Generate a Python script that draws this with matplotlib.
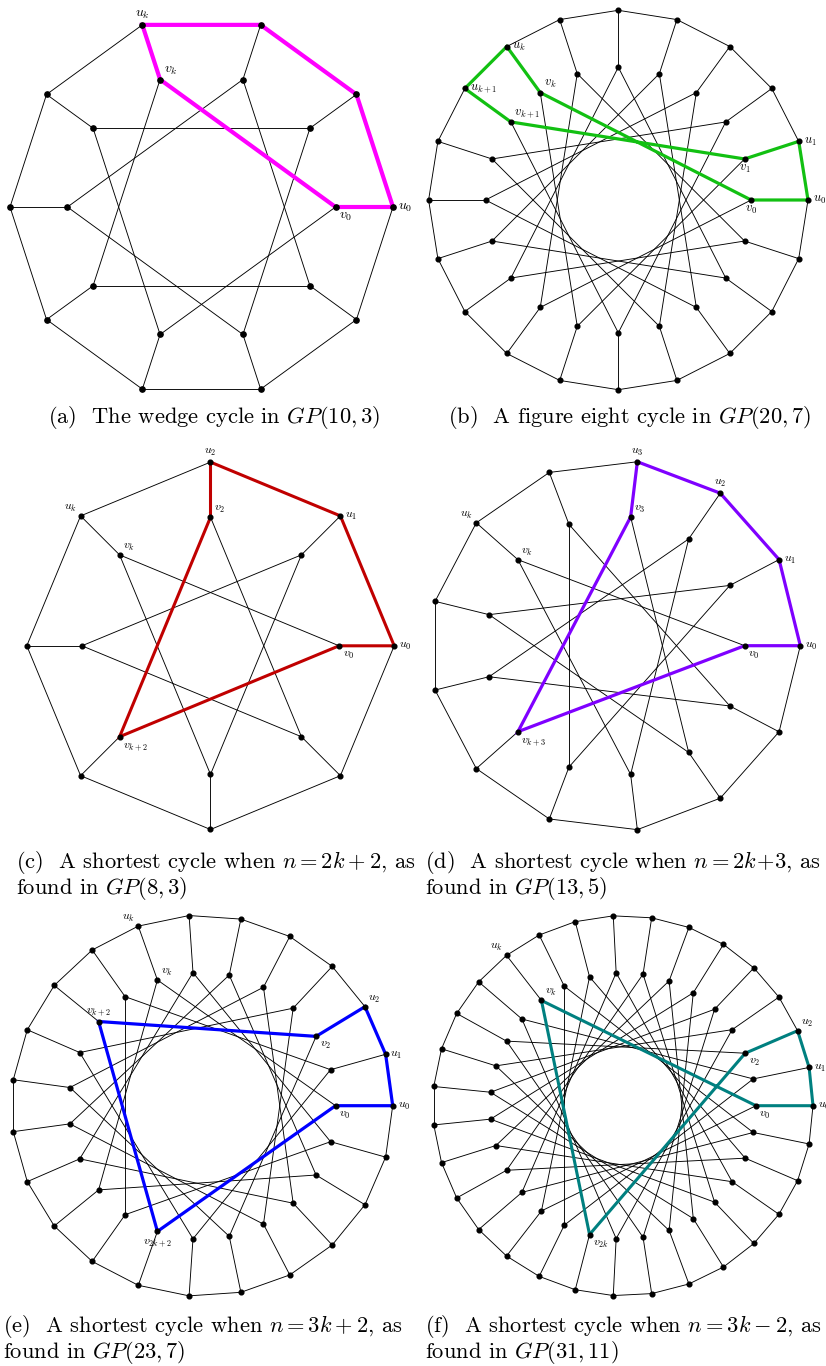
import numpy as np
import matplotlib.pyplot as plt

plt.rcParams['mathtext.fontset'] = 'cm'

W, H = 826, 1366

# generalized Petersen graphs GP(n, k)
graph_n = [10, 20, 8, 13, 23, 31]
graph_k = [3, 7, 3, 5, 7, 11]

# highlighted cycles, as vertex names
cycle_a = ['u0', 'u1', 'u2', 'u3', 'v3', 'v0', 'u0']
cycle_b = ['u0', 'u1', 'v1', 'v8', 'u8', 'u7', 'v7', 'v0', 'u0']
cycle_c = ['u0', 'u1', 'u2', 'v2', 'v5', 'v0', 'u0']
cycle_d = ['u0', 'u1', 'u2', 'u3', 'v3', 'v8', 'v0', 'u0']
cycle_e = ['u0', 'u1', 'u2', 'v2', 'v9', 'v16', 'v0', 'u0']
cycle_f = ['u0', 'u1', 'u2', 'v2', 'v22', 'v11', 'v0', 'u0']
cycles = [cycle_a, cycle_b, cycle_c, cycle_d, cycle_e, cycle_f]

# vertex labels: (vertex, text, side)
labels_a = [('u3', 'u_k', 'N'), ('v3', 'v_k', 'NE'), ('u0', 'u_0', 'E'), ('v0', 'v_0', 'SE')]
labels_b = [('u7', 'u_k', 'E'), ('u8', 'u_{k+1}', 'E'), ('v7', 'v_k', 'NE'),
            ('v8', 'v_{k+1}', 'NE'), ('u1', 'u_1', 'E'), ('v1', 'v_1', 'S'),
            ('u0', 'u_0', 'E'), ('v0', 'v_0', 'S')]
labels_c = [('u2', 'u_2', 'N'), ('u3', 'u_k', 'NW'), ('v3', 'v_k', 'NE'),
            ('v2', 'v_2', 'NE'), ('u1', 'u_1', 'E'), ('u0', 'u_0', 'E'),
            ('v0', 'v_0', 'SE'), ('v5', 'v_{k+2}', 'SE')]
labels_d = [('u3', 'u_3', 'N'), ('u2', 'u_2', 'N'), ('u1', 'u_1', 'E'),
            ('u0', 'u_0', 'E'), ('v0', 'v_0', 'SE'), ('v3', 'v_3', 'NE'),
            ('u5', 'u_k', 'NW'), ('v5', 'v_k', 'NE'), ('v8', 'v_{k+3}', 'SE')]
labels_e = [('u7', 'u_k', 'NW'), ('v7', 'v_k', 'NE'), ('v9', 'v_{k+2}', 'N'),
            ('u2', 'u_2', 'NE'), ('v2', 'v_2', 'SE'), ('u1', 'u_1', 'E'),
            ('u0', 'u_0', 'E'), ('v0', 'v_0', 'SE'), ('v16', 'v_{2k+2}', 'S')]
labels_f = [('u11', 'u_k', 'NW'), ('v11', 'v_k', 'NE'), ('u2', 'u_2', 'NE'),
            ('v2', 'v_2', 'SE'), ('u1', 'u_1', 'E'), ('u0', 'u_0', 'E'),
            ('v0', 'v_0', 'SE'), ('v22', 'v_{2k}', 'SE')]
labels = [labels_a, labels_b, labels_c, labels_d, labels_e, labels_f]

captions = [
    r'(a)  The wedge cycle in $GP(10,3)$',
    r'(b)  A figure eight cycle in $GP(20,7)$',
    '(c)  A shortest cycle when $n=2k+2$, as\nfound in $GP(8,3)$',
    '(d)  A shortest cycle when $n=2k\\!+\\!3$, as\nfound in $GP(13,5)$',
    '(e)  A shortest cycle when $n=3k+2$, as\nfound in $GP(23,7)$',
    '(f)  A shortest cycle when $n=3k-2$, as\nfound in $GP(31,11)$',
]

# layout (pixels)
centers = [(201.5, 207), (618.3, 200), (210.5, 645.8), (615, 645.7), (202.1, 1105.7), (622.9, 1105.7)]
radii = [191.5, 189.7, 183.7, 185.3, 190.6, 190.1]
inner_ratio = 0.7
colors = ['#ff00ff', '#12c012', '#c00000', '#7f00ff', '#0000ff', '#008080']
cycle_lw = [3.0, 2.3, 2.2, 2.3, 2.3, 2.2]
label_size = [10, 9, 8.5, 8.5, 8.5, 8.5]
cap_pos = [(214, 418, 'center'), (630, 418, 'center'), (16, 849, 'left'),
           (425, 849, 'left'), (3, 1313, 'left'), (425, 1313, 'left')]

sides = {'N': (0, 3, 'center', 'bottom'), 'NE': (2.5, 1.5, 'left', 'bottom'),
         'E': (3.5, 0, 'left', 'center'), 'SE': (2.5, -1.5, 'left', 'top'),
         'S': (0, -2.5, 'center', 'top'), 'NW': (-2.5, 1.5, 'right', 'bottom')}

fig = plt.figure(figsize=(W / 100, H / 100), dpi=100)
L = 1.12

for i in range(6):
    n, k = graph_n[i], graph_k[i]
    cx, cy = centers[i]
    R = radii[i] * L
    ax = fig.add_axes([(cx - R) / W, 1 - (cy + R) / H, 2 * R / W, 2 * R / H])
    ax.set_xlim(-L, L)
    ax.set_ylim(-L, L)
    ax.axis('off')

    ang = 2 * np.pi * np.arange(n) / n
    pos = {}
    for j in range(n):
        pos['u%d' % j] = (np.cos(ang[j]), np.sin(ang[j]))
        pos['v%d' % j] = (inner_ratio * np.cos(ang[j]), inner_ratio * np.sin(ang[j]))

    # plain edges
    for j in range(n):
        for a, b in [('u%d' % j, 'u%d' % ((j + 1) % n)),
                     ('u%d' % j, 'v%d' % j),
                     ('v%d' % j, 'v%d' % ((j + k) % n))]:
            ax.plot([pos[a][0], pos[b][0]], [pos[a][1], pos[b][1]],
                    color='black', lw=0.65, zorder=1)

    cyc = cycles[i]
    ax.plot([pos[v][0] for v in cyc], [pos[v][1] for v in cyc],
            color=colors[i], lw=cycle_lw[i], solid_joinstyle='miter', zorder=2)

    xs = [p[0] for p in pos.values()]
    ys = [p[1] for p in pos.values()]
    ax.plot(xs, ys, 'o', color='black', ms=3.8 if i == 0 else 3.4, zorder=3)

    for v, txt, side in labels[i]:
        dx, dy, ha, va = sides[side]
        ax.annotate('$%s$' % txt, xy=pos[v], xytext=(dx, dy), textcoords='offset points',
                    ha=ha, va=va, fontsize=label_size[i], annotation_clip=False)

for i in range(6):
    x, y, ha = cap_pos[i]
    fig.text(x / W, 1 - y / H, captions[i], ha=ha, va='center' if ha == 'center' else 'top',
             fontsize=16.2, family='cmr10', linespacing=0.97)

fig.savefig('out.png', dpi=100, facecolor='white')
